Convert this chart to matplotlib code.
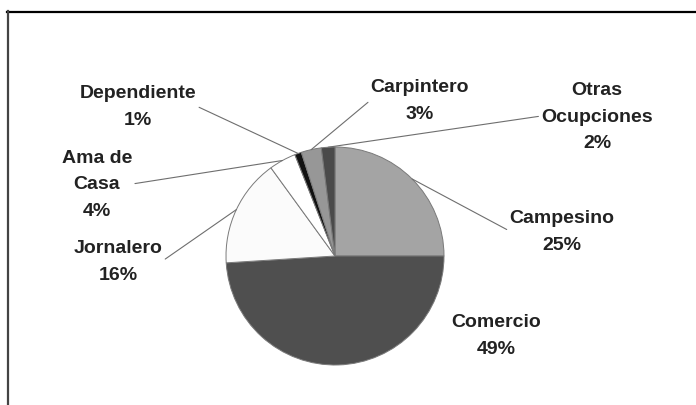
import numpy as np
import matplotlib
matplotlib.use("Agg")
import matplotlib.pyplot as plt
from matplotlib.lines import Line2D

# datos (orden horario desde las 12)
ocupaciones = ["Campesino", "Comercio", "Jornalero", "Ama de\nCasa",
               "Dependiente", "Carpintero", "Otras\nOcupciones"]
porcentajes = [25, 49, 16, 4, 1, 3, 2]
colores = ["#a4a4a4", "#4f4f4f", "#fbfbfb", "#ffffff",
           "#111111", "#979797", "#4a4a4a"]

# posicion de cada etiqueta (pixeles, y hacia arriba) y punto de salida de la linea
pos_etiqueta = [(562, 174), (496, 70), (118, 144), (97, 221),
                (138, 299), (420, 305), (597, 289)]
salida_linea = [(0, 0.5), None, (1, 0.5), (1, 0.5),
                (1, 0.5), (0, 0.5), (0, 0.5)]

W, H = 696, 406
fig = plt.figure(figsize=(W / 100, H / 100), dpi=100)
ax = fig.add_axes([0, 0, 1, 1])

centro = (335, 149)
radio = 109
wedges, _ = ax.pie(porcentajes, colors=colores, startangle=90, counterclock=False,
                   center=centro, radius=radio,
                   wedgeprops=dict(edgecolor="#7a7a7a", linewidth=0.7))
ax.set_xlim(0, W)
ax.set_ylim(0, H)
ax.set_aspect("equal")
ax.axis("off")

for w, nombre, p, xyt, rel in zip(wedges, ocupaciones, porcentajes, pos_etiqueta, salida_linea):
    ang = np.deg2rad((w.theta1 + w.theta2) / 2)
    borde = (centro[0] + radio * np.cos(ang), centro[1] + radio * np.sin(ang))
    props = None
    if rel is not None:
        props = dict(arrowstyle="-", color="#6e6e6e", lw=0.8, relpos=rel,
                     shrinkA=0, shrinkB=0)
    ax.annotate(f"{nombre}\n{p}%", xy=borde, xytext=xyt, ha="center", va="center",
                multialignment="center", fontsize=14, fontweight="bold",
                family="Liberation Sans", color="#222222", linespacing=1.7,
                arrowprops=props)

# marco del grafico (solo borde superior e izquierdo visibles)
fig.add_artist(Line2D([7 / W, 695 / W], [1 - 12.5 / H, 1 - 12.5 / H],
                      transform=fig.transFigure, color="black", lw=1.6))
fig.add_artist(Line2D([7.5 / W, 7.5 / W], [0, 1 - 12 / H],
                      transform=fig.transFigure, color="#444444", lw=1.6))

fig.savefig("out.png", dpi=100, facecolor="white")
